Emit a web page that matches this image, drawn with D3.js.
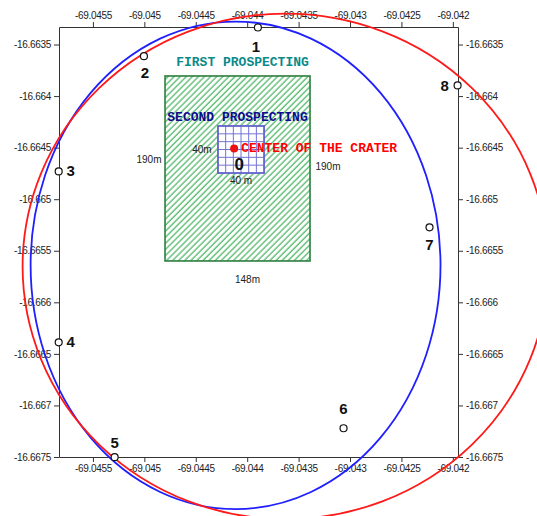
<!DOCTYPE html>
<meta charset="utf-8">
<style>
body,html{ margin:0; padding:0; background:#fff; }
svg{ display:block; }
.tick text{ font-family:"Liberation Sans", Arial, sans-serif; font-size:10px; fill:#222; }
.tick line, .domain{ stroke:#333; }
.num{ font-family:"Liberation Sans", Arial, sans-serif; font-weight:bold; font-size:15px; fill:#111; }
.dim{ font-family:"Liberation Sans", Arial, sans-serif; font-size:10px; fill:#222; }
.mono{ font-family:"Liberation Mono", "Courier New", monospace; font-weight:bold; font-size:13px; }
</style>
<svg width="537" height="516"></svg>
<script src="https://d3js.org/d3.v7.min.js"></script>
<script>

// tick values
var xTicks = [-69.0455, -69.045, -69.0445, -69.044, -69.0435, -69.043, -69.0425, -69.042]
var yTicks = [-16.6635, -16.664, -16.6645, -16.665, -16.6655, -16.666, -16.6665, -16.667, -16.6675]

// sample points
var pointIds  = ["1", "2", "3", "4", "5", "6", "7", "8"]
var pointLon  = [-69.043896, -69.045004, -69.045833, -69.045833, -69.045289, -69.043063, -69.042227, -69.041954]
var pointLat  = [-16.663335, -16.663613, -16.664731, -16.666388, -16.667502, -16.667221, -16.665273, -16.663897]

// crater center ("0")
var craterLon = -69.044127, craterLat = -16.664508

// fitted rims: center + radii (degrees)
var rimColors = ["#1f1fff", "#ff1a1a"]
var rimLon  = [-69.044113, -69.043627]
var rimLat  = [-16.665641, -16.665651]
var rimRLon = [0.001993, 0.002557]
var rimRLat = [0.002364, 0.002451]

// prospecting areas [lonMin, lonMax, latMin, latMax]
var firstArea  = [-69.044799, -69.043389, -16.665599, -16.663805]
var secondArea = [-69.044284, -69.043836, -16.664746, -16.66429]
var gridCells = 6

var svg = d3.select("svg")
var x = d3.scaleLinear().domain([-69.04583, -69.04195]).range([59, 458])
var y = d3.scaleLinear().domain([-16.6675, -16.66333]).range([457, 27])

var fmt = function(d){ return String(+d.toFixed(4)) }

var defs = svg.append("defs")
var pat = defs.append("pattern")
    .attr("id", "hatch")
    .attr("patternUnits", "userSpaceOnUse")
    .attr("width", 4.3).attr("height", 4.3)
    .attr("patternTransform", "rotate(45)")
pat.append("rect").attr("width", 4.3).attr("height", 4.3).attr("fill", "#fff")
pat.append("line").attr("x1", 1).attr("y1", 0).attr("x2", 1).attr("y2", 4.3)
    .attr("stroke", "#5fbf75").attr("stroke-width", 1.4)

// axes on all four sides
svg.append("g").attr("transform", "translate(0,457)")
  .call(d3.axisBottom(x).tickValues(xTicks).tickFormat(fmt).tickSize(5).tickSizeOuter(0))
svg.append("g").attr("transform", "translate(0,27)")
  .call(d3.axisTop(x).tickValues(xTicks).tickFormat(fmt).tickSize(5).tickSizeOuter(0))
svg.append("g").attr("transform", "translate(59,0)")
  .call(d3.axisLeft(y).tickValues(yTicks).tickFormat(fmt).tickSize(5).tickSizeOuter(0))
svg.append("g").attr("transform", "translate(458,0)")
  .call(d3.axisRight(y).tickValues(yTicks).tickFormat(fmt).tickSize(5).tickSizeOuter(0))
svg.selectAll(".tick text").attr("letter-spacing", "-0.3")

// first prospecting (hatched)
svg.append("rect")
    .attr("x", x(firstArea[0])).attr("y", y(firstArea[3]))
    .attr("width", x(firstArea[1]) - x(firstArea[0]))
    .attr("height", y(firstArea[2]) - y(firstArea[3]))
    .attr("fill", "url(#hatch)")
    .attr("stroke", "#2d7d3f").attr("stroke-width", 1.6)

// second prospecting (grid)
var gx0 = x(secondArea[0]), gx1 = x(secondArea[1]), gy0 = y(secondArea[3]), gy1 = y(secondArea[2])
var grid = svg.append("g")
grid.append("rect").attr("x", gx0).attr("y", gy0)
    .attr("width", gx1 - gx0).attr("height", gy1 - gy0)
    .attr("fill", "#fff")
var steps = d3.range(1, gridCells)
grid.selectAll(".gv").data(steps).enter().append("line")
    .attr("x1", function(i){ return gx0 + i * (gx1 - gx0) / gridCells })
    .attr("x2", function(i){ return gx0 + i * (gx1 - gx0) / gridCells })
    .attr("y1", gy0).attr("y2", gy1)
    .attr("stroke", "#7373d6").attr("stroke-width", 1)
grid.selectAll(".gh").data(steps).enter().append("line")
    .attr("y1", function(i){ return gy0 + i * (gy1 - gy0) / gridCells })
    .attr("y2", function(i){ return gy0 + i * (gy1 - gy0) / gridCells })
    .attr("x1", gx0).attr("x2", gx1)
    .attr("stroke", "#7373d6").attr("stroke-width", 1)
grid.append("rect").attr("x", gx0).attr("y", gy0)
    .attr("width", gx1 - gx0).attr("height", gy1 - gy0)
    .attr("fill", "none").attr("stroke", "#6363cc").attr("stroke-width", 1.8)

// labels for areas
var fx0 = x(firstArea[0]), fx1 = x(firstArea[1]), fy0 = y(firstArea[3]), fy1 = y(firstArea[2])
svg.append("text").attr("class", "mono").attr("fill", "#0a8a8a")
    .attr("x", (fx0 + fx1) / 2 + 5).attr("y", fy0 - 10).attr("text-anchor", "middle")
    .text("FIRST PROSPECTING")
svg.append("text").attr("class", "mono").attr("fill", "#0c0c8c")
    .attr("x", (fx0 + fx1) / 2).attr("y", gy0 - 5).attr("text-anchor", "middle")
    .text("SECOND PROSPECTING")
svg.append("text").attr("class", "dim").attr("x", fx0 - 16).attr("y", 163).attr("text-anchor", "middle").text("190m")
svg.append("text").attr("class", "dim").attr("x", fx1 + 18).attr("y", 170).attr("text-anchor", "middle").text("190m")
svg.append("text").attr("class", "dim").attr("x", (fx0 + fx1) / 2 + 10).attr("y", fy1 + 22).attr("text-anchor", "middle").text("148m")
svg.append("text").attr("class", "dim").attr("x", gx0 - 16).attr("y", (gy0 + gy1) / 2 + 3).attr("text-anchor", "middle").text("40m")
svg.append("text").attr("class", "dim").attr("x", (gx0 + gx1) / 2).attr("y", gy1 + 11).attr("text-anchor", "middle").text("40 m")

// rims
svg.selectAll(".rim").data(rimColors).enter().append("ellipse")
    .attr("cx", function(d, i){ return x(rimLon[i]) })
    .attr("cy", function(d, i){ return y(rimLat[i]) })
    .attr("rx", function(d, i){ return x(rimLon[i] + rimRLon[i]) - x(rimLon[i]) })
    .attr("ry", function(d, i){ return y(rimLat[i] - rimRLat[i]) - y(rimLat[i]) })
    .attr("fill", "none")
    .attr("stroke", function(d){ return d })
    .attr("stroke-width", 1.8)

// crater center
svg.append("circle").attr("cx", x(craterLon)).attr("cy", y(craterLat)).attr("r", 4)
    .attr("fill", "#ee1111")
svg.append("text").attr("class", "mono").attr("fill", "#ff0000")
    .attr("x", x(craterLon) + 7).attr("y", y(craterLat) + 4)
    .text("CENTER OF THE CRATER")
svg.append("text").attr("class", "num").style("font-size", "17px")
    .attr("x", x(craterLon) + 5).attr("y", y(craterLat) + 22).attr("text-anchor", "middle")
    .text("0")

// sample points and their numbers
var labelOffset = {
  "1": [-2, 24], "2": [1, 22], "3": [12, 5], "4": [12, 5],
  "5": [0, -9], "6": [0, -14], "7": [0, 23], "8": [-13, 6]
}
svg.selectAll(".pt").data(pointIds).enter().append("circle")
    .attr("cx", function(d, i){ return x(pointLon[i]) })
    .attr("cy", function(d, i){ return y(pointLat[i]) })
    .attr("r", 3.5)
    .attr("fill", "#fff").attr("stroke", "#111").attr("stroke-width", 1.2)
svg.selectAll(".ptl").data(pointIds).enter().append("text")
    .attr("class", "num").attr("text-anchor", "middle")
    .attr("x", function(d, i){ return x(pointLon[i]) + labelOffset[d][0] })
    .attr("y", function(d, i){ return y(pointLat[i]) + labelOffset[d][1] })
    .text(function(d){ return d })

</script>
